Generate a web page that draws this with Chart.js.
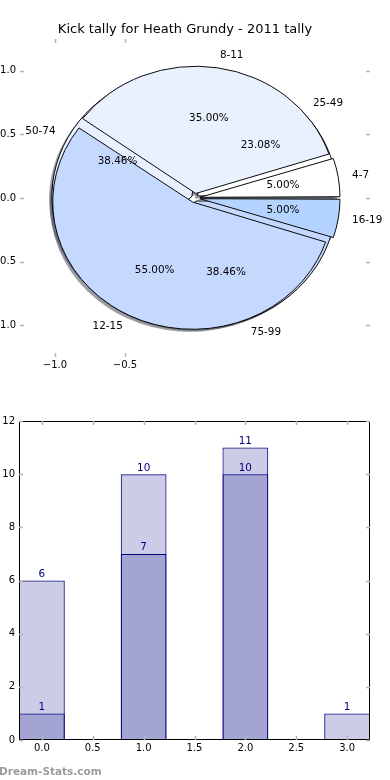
<!DOCTYPE html>
<html><head><meta charset="utf-8">
<script src="https://cdn.jsdelivr.net/npm/chart.js@4.4.1/dist/chart.umd.min.js"></script>
<style>
html,body{margin:0;padding:0;background:#fff;}
#wrap{position:relative;width:390px;height:780px;overflow:hidden;background:#fff;}
#wrap canvas{position:absolute;}
#wm{position:absolute;left:-1px;top:765px;font:bold 10.5px "DejaVu Sans",sans-serif;line-height:12px;color:#9b9b9b;white-space:nowrap;}
</style></head><body>
<div id="wrap">
<canvas id="axes" width="390" height="400" style="left:0;top:0;width:390px;height:400px"></canvas>
<canvas id="pie" width="390" height="400" style="left:0;top:0;width:390px;height:400px"></canvas>
<canvas id="bar" width="390" height="380" style="left:0;top:400px;width:390px;height:380px"></canvas>
<div id="wm">Dream-Stats.com</div>
</div>
<script>
// ---------- data ----------
const titleText = 'Kick tally for Heath Grundy - 2011 tally';
const pieALabels = ['4-7', '8-11', '12-15', '16-19'];
const pieAValues = [1, 7, 11, 1];
const pieBLabels = ['25-49', '50-74', '75-99'];
const pieBValues = [3, 5, 5];
const pieXTicks = [-1.0, -0.5];
const pieYTicks = [-1.0, -0.5, 0.0, 0.5, 1.0];
const barX = [0, 1, 2, 3];
const barBack = [6, 10, 11, 1];
const barFront = [1, 7, 10, null];
const barXTicks = [0, 0.5, 1.0, 1.5, 2.0, 2.5, 3.0];
const barYTicks = [0, 2, 4, 6, 8, 10, 12];

// ---------- styles ----------
const pieAColors = ['#ffffff', '#eaf1fe', '#c5d9ff', '#b4d4ff'];
const pieBColors = ['#ffffff', '#eaf1fe', '#c5d9ff'];
const EXPLODE_A = 0.036, EXPLODE_B = 0.025, SHADOW = 0.02;
const barFill = 'rgba(0,0,128,0.2)', barEdge = '#000080';

Chart.defaults.font.family = '"DejaVu Sans", sans-serif';
Chart.defaults.color = '#000';

const fmt1 = v => (v < 0 ? '\u2212' : '') + Math.abs(v).toFixed(1);

const insideTicks = {
  id: 'insideTicks',
  afterDraw(chart, args, o) {
    const {ctx, chartArea: a} = chart;
    const L = 4;
    ctx.save();
    if (o.frame) {
      ctx.strokeStyle = '#000'; ctx.lineWidth = 1;
      ctx.strokeRect(Math.round(a.left) + 0.5, Math.round(a.top) + 0.5,
        Math.round(a.right) - Math.round(a.left) - 1, Math.round(a.bottom) - Math.round(a.top) - 1);
    }
    ctx.strokeStyle = '#b5b5b5'; ctx.lineWidth = 1.5;
    ctx.beginPath();
    const xs = chart.scales.x, ys = chart.scales.y;
    xs.ticks.forEach(t => {
      const p = Math.round(xs.getPixelForValue(t.value)) + 0.5;
      ctx.moveTo(p, a.top); ctx.lineTo(p, a.top + L);
      ctx.moveTo(p, a.bottom); ctx.lineTo(p, a.bottom - L);
    });
    ys.ticks.forEach(t => {
      const p = Math.round(ys.getPixelForValue(t.value)) + 0.5;
      ctx.moveTo(a.left, p); ctx.lineTo(a.left + L, p);
      ctx.moveTo(a.right, p); ctx.lineTo(a.right - L, p);
    });
    ctx.stroke();
    ctx.restore();
  }
};

// ---------- pie axes ----------
const axesChart = new Chart(document.getElementById('axes'), {
  type: 'scatter',
  data: {datasets: []},
  options: {
    responsive: false, animation: false, events: [], devicePixelRatio: 1,
    layout: {padding: {left: 0, right: 20, top: 0, bottom: 0}},
    scales: {
      x: {
        type: 'linear', min: -1.25, max: 1.25, display: true,
        afterBuildTicks: s => { s.ticks = pieXTicks.map(v => ({value: v})); },
        ticks: {callback: v => fmt1(v), padding: 2, autoSkip: false, maxRotation: 0, font: {size: 10}},
        grid: {display: false, drawTicks: false}, border: {display: false},
        afterFit: s => { s.height = 43; }
      },
      y: {
        type: 'linear', min: -1.25, max: 1.25, display: true,
        afterBuildTicks: s => { s.ticks = pieYTicks.map(v => ({value: v})); },
        ticks: {callback: v => fmt1(v), padding: 4, autoSkip: false, font: {size: 10}},
        grid: {display: false, drawTicks: false}, border: {display: false},
        afterFit: s => { s.width = 20; }
      }
    },
    plugins: {
      legend: {display: false}, tooltip: {enabled: false},
      title: {display: true, text: titleText, color: '#000', font: {size: 13, weight: 'normal'}, padding: {top: 22, bottom: 1.4}},
      insideTicks: {frame: false}
    }
  },
  plugins: [insideTicks]
});

const xs = axesChart.scales.x, ys = axesChart.scales.y, ca = axesChart.chartArea;
const R = xs.getPixelForValue(1) - xs.getPixelForValue(0);
const K = (ys.getPixelForValue(0) - ys.getPixelForValue(1)) / R;

// ---------- pie ----------
const ellipsePie = {
  id: 'ellipsePie',
  afterDatasetsUpdate(chart, args, o) {
    chart.data.datasets.forEach((ds, i) => {
      chart.getDatasetMeta(i).data.forEach(arc => {
        const t = (arc.options.offset || 0) / 4;
        const fix = 1 - Math.sin(Math.min(Math.PI, arc.circumference || 0));
        arc.innerRadius = 0;
        arc.outerRadius = o.R - t * fix;
      });
    });
  },
  beforeDatasetsDraw(chart, args, o) {
    const ctx = chart.ctx;
    const a0 = chart.getDatasetMeta(0).data[0];
    ctx.save();
    ctx.translate(a0.x, a0.y); ctx.scale(1, -o.k); ctx.translate(-a0.x, -a0.y);
    const sh = o.R * o.shadow;
    for (let i = chart.data.datasets.length - 1; i >= 0; i--) {
      chart.getDatasetMeta(i).data.forEach(arc => {
        const orig = arc.options;
        arc.options = Object.assign({}, orig, {backgroundColor: o.shadowColor, borderColor: 'rgba(0,0,0,0)', borderWidth: 0});
        ctx.save(); ctx.translate(-sh, -sh); arc.draw(ctx); ctx.restore();
        arc.options = orig;
      });
    }
  },
  afterDatasetsDraw(chart, args, o) {
    const ctx = chart.ctx;
    ctx.restore();
    const a0 = chart.getDatasetMeta(0).data[0];
    const cx = a0.x, cy = a0.y;
    ctx.save();
    ctx.font = '10.4px "DejaVu Sans", sans-serif';
    ctx.fillStyle = '#000';
    ctx.textBaseline = 'middle';
    chart.data.datasets.forEach((ds, i) => {
      const total = ds.data.reduce((s, v) => s + v, 0);
      chart.getDatasetMeta(i).data.forEach((arc, j) => {
        const th = (arc.startAngle + arc.endAngle) / 2;
        const t = (arc.options.offset || 0) / 4;
        const pos = d => [cx + (t + d * o.R) * Math.cos(th), cy - o.k * (t + d * o.R) * Math.sin(th)];
        const [lx, ly] = pos(1.1);
        ctx.textAlign = lx > cx ? 'left' : 'right';
        ctx.fillText(ds.segLabels[j], lx, ly);
        const [px, py] = pos(0.6);
        ctx.textAlign = 'center';
        ctx.fillText((ds.data[j] / total * 100).toFixed(2) + '%', px, py);
      });
    });
    ctx.restore();
  }
};

new Chart(document.getElementById('pie'), {
  type: 'pie',
  data: {
    labels: pieALabels,
    datasets: [
      {data: pieAValues, segLabels: pieALabels, backgroundColor: pieAColors, borderColor: '#000', borderWidth: 1,
       offset: 4 * EXPLODE_A * R, radius: R, clip: false},
      {data: pieBValues, segLabels: pieBLabels, backgroundColor: pieBColors, borderColor: '#000', borderWidth: 1,
       offset: 4 * EXPLODE_B * R, radius: R, clip: false}
    ]
  },
  options: {
    responsive: false, animation: false, events: [], devicePixelRatio: 1,
    rotation: 90,
    layout: {padding: {left: ca.left, top: ca.top, right: 390 - ca.right, bottom: 400 - ca.bottom}},
    plugins: {
      legend: {display: false}, tooltip: {enabled: false},
      ellipsePie: {R: R, k: K, shadow: SHADOW, shadowColor: 'rgba(60,64,77,0.5)'}
    }
  },
  plugins: [ellipsePie]
});

// ---------- bars ----------
const barLabels = {
  id: 'barLabels',
  afterDatasetsDraw(chart) {
    const ctx = chart.ctx;
    ctx.save();
    ctx.font = '10.4px "DejaVu Sans", sans-serif';
    ctx.fillStyle = '#000080';
    ctx.textAlign = 'center';
    ctx.textBaseline = 'alphabetic';
    chart.data.datasets.forEach((ds, i) => {
      chart.getDatasetMeta(i).data.forEach((el, j) => {
        const v = ds.data[j].y;
        if (v === null || v === undefined) return;
        ctx.fillText(String(v), el.x, el.y - 3.5);
      });
    });
    ctx.restore();
  }
};

const barStyle = {backgroundColor: barFill, borderColor: barEdge, borderWidth: 1, borderSkipped: false};
new Chart(document.getElementById('bar'), {
  type: 'bar',
  data: {
    datasets: [
      Object.assign({data: barX.map((x, i) => ({x: x, y: barFront[i]}))}, barStyle),
      Object.assign({data: barX.map((x, i) => ({x: x, y: barBack[i]}))}, barStyle)
    ]
  },
  options: {
    responsive: false, animation: false, events: [], devicePixelRatio: 1,
    layout: {padding: {top: 21, right: 20, left: 0, bottom: 0}},
    datasets: {bar: {grouped: false, categoryPercentage: 1, barPercentage: 0.9}},
    scales: {
      x: {
        type: 'linear', min: -0.225, max: 3.225, offset: false,
        afterBuildTicks: s => { s.ticks = barXTicks.map(v => ({value: v})); },
        ticks: {callback: v => fmt1(v), padding: 2, autoSkip: false, maxRotation: 0, font: {size: 10}},
        grid: {display: false, drawTicks: false, offset: false}, border: {display: false},
        afterFit: s => { s.height = 40; }
      },
      y: {
        type: 'linear', min: 0, max: 12,
        afterBuildTicks: s => { s.ticks = barYTicks.map(v => ({value: v})); },
        ticks: {callback: v => String(v), padding: 4, autoSkip: false, font: {size: 10}},
        grid: {display: false, drawTicks: false}, border: {display: false},
        afterFit: s => { s.width = 19; }
      }
    },
    plugins: {legend: {display: false}, tooltip: {enabled: false}, insideTicks: {frame: true}}
  },
  plugins: [insideTicks, barLabels]
});
</script>
</body></html>
